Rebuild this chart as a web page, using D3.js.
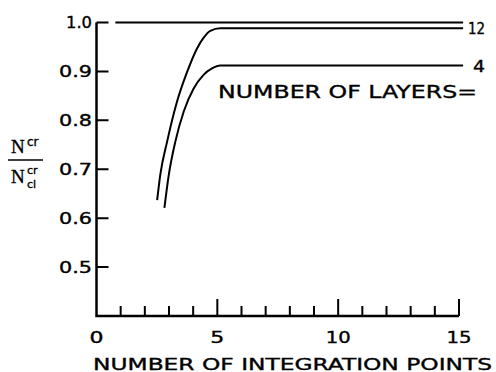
<!DOCTYPE html>
<html>
<head>
<meta charset="utf-8">
<script src="https://cdn.jsdelivr.net/npm/d3@7"></script>
<style>
	body { margin: 0; background: #fff; }
	svg text { font-family: 'DejaVu Sans', sans-serif; fill: #000; stroke: #000; stroke-width: 0.35px; }
</style>
</head>
<body>
<div id="chart"></div>
<script>
// Values
var layers = ['12', '4'];
var x_layers12 = [2.51, 2.64, 2.92, 3.33, 3.75, 4.16, 4.42, 4.71, 5.12, 15.17];
var y_layers12 = [0.637, 0.689, 0.756, 0.838, 0.899, 0.947, 0.968, 0.983, 0.988, 0.988];
var x_layers4 = [2.81, 2.99, 3.26, 3.61, 4.02, 4.43, 4.78, 5.12, 15.17];
var y_layers4 = [0.621, 0.688, 0.756, 0.818, 0.865, 0.893, 0.906, 0.912, 0.912];
var x_reference = [0.78, 15.17];
var y_reference = [1.0, 1.0];
var x_ticks = [0, 5, 10, 15];
var x_minor = [1, 2, 3, 4, 6, 7, 8, 9, 11, 12, 13, 14];
var y_ticks = [0.5, 0.6, 0.7, 0.8, 0.9, 1.0];

var total_width = 496;
var total_height = 372;

var x_scale = d3.scaleLinear().domain([0, 15]).range([96.5, 459]);
var y_scale = d3.scaleLinear().domain([0.4, 1.0]).range([316, 22.5]);

var svg = d3.select('#chart')
	.append('svg')
	.attr('width', total_width)
	.attr('height', total_height);

var x0 = x_scale(0);
var y0 = y_scale(0.4);

// Axis lines
svg.append('path')
	.attr('d', 'M' + x0 + ',' + y_scale(1.0) + 'V' + y0 + 'H' + x_scale(15))
	.attr('fill', 'none')
	.attr('stroke', '#000')
	.attr('stroke-width', 2.5);

// X ticks pointing up (minor, major) and Y ticks pointing right
var tick_path = x_minor.map(function(d) { return 'M' + x_scale(d) + ',' + y0 + 'v-10'; }).join('') +
	x_ticks.slice(1).map(function(d) { return 'M' + x_scale(d) + ',' + y0 + 'v-17'; }).join('') +
	y_ticks.map(function(d) { return 'M' + x0 + ',' + y_scale(d) + 'h12'; }).join('');
svg.append('path')
	.attr('d', tick_path)
	.attr('fill', 'none')
	.attr('stroke', '#000')
	.attr('stroke-width', 2);

// X tick labels
svg.selectAll('.xlabel')
	.data(x_ticks)
	.enter()
	.append('text')
	.attr('class', 'xlabel')
	.attr('x', function(d) { return x_scale(d); })
	.attr('y', 343)
	.attr('text-anchor', 'middle')
	.attr('font-size', '15px')
	.attr('textLength', function(d) { return d < 10 ? 14 : 25; })
	.attr('lengthAdjust', 'spacingAndGlyphs')
	.text(function(d) { return d; });

// Y tick labels
svg.selectAll('.ylabel')
	.data(y_ticks)
	.enter()
	.append('text')
	.attr('class', 'ylabel')
	.attr('x', 92)
	.attr('y', function(d) { return y_scale(d) + 5.5; })
	.attr('text-anchor', 'end')
	.attr('font-size', '15px')
	.attr('textLength', function(d) { return d == 1 ? 26 : 33; })
	.attr('lengthAdjust', 'spacingAndGlyphs')
	.text(function(d) { return d.toFixed(1); });

// Curves
var line = d3.line()
	.x(function(d) { return x_scale(d[0]); })
	.y(function(d) { return y_scale(d[1]); })
	.curve(d3.curveMonotoneX);

var series = [
	d3.zip(x_layers12, y_layers12),
	d3.zip(x_layers4, y_layers4)
];

svg.append('path')
	.datum(d3.zip(x_reference, y_reference))
	.attr('d', line)
	.attr('fill', 'none')
	.attr('stroke', '#000')
	.attr('stroke-width', 2);

svg.selectAll('.curve')
	.data(series)
	.enter()
	.append('path')
	.attr('class', 'curve')
	.attr('d', line)
	.attr('fill', 'none')
	.attr('stroke', '#000')
	.attr('stroke-width', 2);

// Layer labels at line ends
svg.selectAll('.layerlabel')
	.data(series)
	.enter()
	.append('text')
	.attr('class', 'layerlabel')
	.attr('x', function(d, i) { return x_scale(d[d.length - 1][0]) + (i == 0 ? 5 : 10); })
	.attr('y', function(d) { return y_scale(d[d.length - 1][1]) + 6; })
	.attr('font-size', '15px')
	.attr('textLength', function(d, i) { return i == 0 ? 17 : 12; })
	.attr('lengthAdjust', 'spacingAndGlyphs')
	.text(function(d, i) { return layers[i]; });

svg.append('text')
	.attr('x', 218)
	.attr('y', 98)
	.attr('font-size', '17px')
	.attr('textLength', 259)
	.attr('lengthAdjust', 'spacingAndGlyphs')
	.text('NUMBER OF LAYERS=');

// Axis titles
svg.append('text')
	.attr('x', 93)
	.attr('y', 370)
	.attr('font-size', '16px')
	.attr('textLength', 399)
	.attr('lengthAdjust', 'spacingAndGlyphs')
	.text('NUMBER OF INTEGRATION POINTS');

var frac = svg.append('g');
frac.append('text')
	.attr('x', 11).attr('y', 153)
	.style('font-family', "'Liberation Serif', serif")
	.attr('font-size', '19px')
	.text('N');
frac.append('text')
	.attr('x', 27).attr('y', 146)
	.attr('font-size', '12px')
	.text('cr');
frac.append('path')
	.attr('d', 'M8,160H43')
	.attr('stroke', '#000')
	.attr('stroke-width', 1.5);
frac.append('text')
	.attr('x', 11).attr('y', 183)
	.style('font-family', "'Liberation Serif', serif")
	.attr('font-size', '19px')
	.text('N');
frac.append('text')
	.attr('x', 27).attr('y', 174)
	.attr('font-size', '11px')
	.text('cr');
frac.append('text')
	.attr('x', 27).attr('y', 188)
	.attr('font-size', '11px')
	.text('cl');
</script>
</body>
</html>
